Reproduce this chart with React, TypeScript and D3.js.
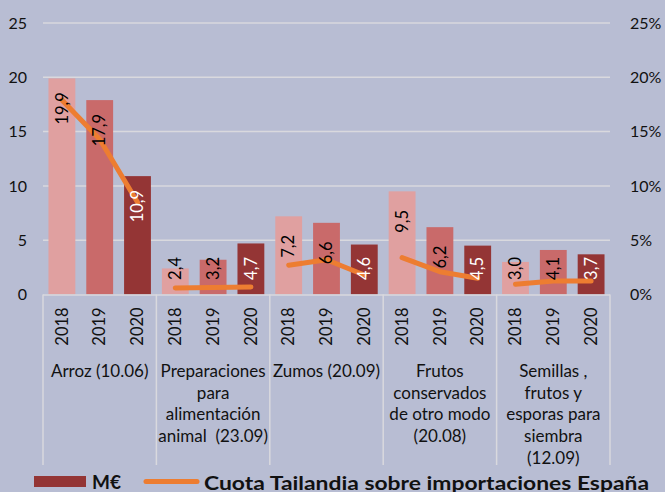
import React, { useEffect, useRef } from "react";
import * as d3 from "d3";

const categories = [
  ["Arroz (10.06)"],
  ["Preparaciones", "para", "alimentación", "animal\u00a0 (23.09)"],
  ["Zumos (20.09)"],
  ["Frutos", "conservados", "de otro modo", "(20.08)"],
  ["Semillas ,", "frutos y", "esporas para", "siembra", "(12.09)"],
];
const years = ["2018", "2019", "2020"];
const valuesMEuro = [
  [19.9, 17.9, 10.9],
  [2.4, 3.2, 4.7],
  [7.2, 6.6, 4.6],
  [9.5, 6.2, 4.5],
  [3.0, 4.1, 3.7],
];
const cuotaPct = [
  [17.9, 14.3, 8.5],
  [0.6, 0.65, 0.7],
  [2.7, 3.2, 1.8],
  [3.4, 2.1, 1.5],
  [0.95, 1.25, 1.25],
];
const leftTicks = [0, 5, 10, 15, 20, 25];
const rightTicks = [0, 5, 10, 15, 20, 25];

const barColors = ["#e0a0a0", "#c96a6a", "#943535"];
const labelColors = ["#000", "#000", "#fff"];
const lineColor = "#ed7d31";
const gridColor = "#d9d9de";
const font = "Lato, 'Open Sans', sans-serif";

export default function App() {
  const ref = useRef<SVGSVGElement>(null);

  useEffect(() => {
    const width = 665;
    const height = 492;
    const margin = { top: 23, left: 43, right: 55, bottom: 197.5 };
    const svg = d3.select(ref.current);
    svg.selectAll("*").remove();

    svg.append("rect").attr("width", width).attr("height", height).attr("fill", "#b8bdd3");

    const x0 = margin.left;
    const x1 = width - margin.right;
    const y0 = height - margin.bottom;

    const xCat = d3.scaleBand<number>().domain(d3.range(categories.length)).range([x0, x1]);
    const xYear = d3.scaleBand<number>().domain(d3.range(years.length)).range([0, xCat.bandwidth()]).paddingInner(0.29).paddingOuter(0.145);
    const y = d3.scaleLinear().domain([0, 25]).range([y0, margin.top]);
    const yPct = d3.scaleLinear().domain([0, 25]).range([y0, margin.top]);

    // grid
    svg.append("g").selectAll("line").data(leftTicks.filter(t => t > 0)).enter()
      .append("line")
      .attr("x1", x0).attr("x2", x1)
      .attr("y1", d => y(d)).attr("y2", d => y(d))
      .attr("stroke", gridColor).attr("stroke-width", 1.5);

    // left axis labels
    svg.append("g").selectAll("text").data(leftTicks).enter()
      .append("text")
      .attr("x", 27).attr("y", d => y(d))
      .attr("dy", "0.35em")
      .attr("text-anchor", "end")
      .attr("font-family", font).attr("font-size", 16).attr("fill", "#111")
      .text(d => d);

    // right axis labels
    svg.append("g").selectAll("text").data(rightTicks).enter()
      .append("text")
      .attr("x", 630).attr("y", d => yPct(d))
      .attr("dy", "0.35em")
      .attr("font-family", font).attr("font-size", 16).attr("fill", "#111")
      .text(d => d + "%");

    // bars
    const groups = svg.append("g").selectAll("g").data(valuesMEuro).enter()
      .append("g")
      .attr("transform", (d, i) => `translate(${xCat(i)},0)`);

    groups.selectAll("rect").data(d => d).enter()
      .append("rect")
      .attr("x", (d, j) => xYear(j)!)
      .attr("width", xYear.bandwidth())
      .attr("y", d => y(d))
      .attr("height", d => y0 - y(d))
      .attr("fill", (d, j) => barColors[j]);

    // line (one segment per category)
    const line = d3.line<number>()
      .x((d, j) => xYear(j)! + xYear.bandwidth() / 2)
      .y(d => yPct(d));
    groups.data(cuotaPct).append("path")
      .attr("d", d => line(d))
      .attr("fill", "none")
      .attr("stroke", lineColor)
      .attr("stroke-width", 5)
      .attr("stroke-linecap", "round")
      .attr("stroke-linejoin", "round");

    // value labels
    groups.data(valuesMEuro).selectAll("text.val").data(d => d).enter()
      .append("text")
      .attr("class", "val")
      .attr("transform", (d, j) => {
        const cx = xYear(j)! + xYear.bandwidth() / 2;
        const cy = Math.min(y(d) + 30, y0 - 26);
        return `translate(${cx},${cy}) rotate(-90)`;
      })
      .attr("text-anchor", "middle")
      .attr("dy", "0.35em")
      .attr("font-family", font).attr("font-size", 16.5)
      .attr("fill", (d, j) => labelColors[j])
      .text(d => d.toFixed(1).replace(".", ","));

    // category axis
    svg.append("line")
      .attr("x1", x0).attr("x2", x1).attr("y1", y0 + 0.5).attr("y2", y0 + 0.5)
      .attr("stroke", gridColor).attr("stroke-width", 1.5);
    svg.append("g").selectAll("line").data(d3.range(categories.length + 1)).enter()
      .append("line")
      .attr("x1", i => x0 + i * xCat.bandwidth()).attr("x2", i => x0 + i * xCat.bandwidth())
      .attr("y1", y0).attr("y2", 465)
      .attr("stroke", gridColor).attr("stroke-width", 1.5);

    // year labels
    groups.selectAll("text.yr").data(years).enter()
      .append("text")
      .attr("class", "yr")
      .attr("transform", (d, j) => `translate(${xYear(j)! + xYear.bandwidth() / 2},${y0 + 32}) rotate(-90)`)
      .attr("text-anchor", "middle")
      .attr("dy", "0.35em")
      .attr("font-family", font).attr("font-size", 16.5).attr("fill", "#111")
      .text(d => d);

    // category labels
    groups.data(categories).append("text")
      .attr("font-family", font).attr("font-size", 17).attr("fill", "#111")
      .attr("text-anchor", "middle")
      .selectAll("tspan").data(d => d).enter()
      .append("tspan")
      .attr("x", xCat.bandwidth() / 2)
      .attr("y", (d, k) => 377 + k * 21.7)
      .text(d => d);

    // legend
    const leg = svg.append("g");
    leg.append("rect").attr("x", 34).attr("y", 476).attr("width", 52).attr("height", 11).attr("fill", barColors[2]);
    leg.append("text").attr("x", 92).attr("y", 489)
      .attr("font-family", font).attr("font-size", 19).attr("font-weight", "bold").attr("fill", "#111")
      .text("M€");
    leg.append("line").attr("x1", 146).attr("x2", 197).attr("y1", 481.5).attr("y2", 481.5)
      .attr("stroke", lineColor).attr("stroke-width", 5).attr("stroke-linecap", "round");
    leg.append("text").attr("x", 204).attr("y", 489.5)
      .attr("font-family", font).attr("font-size", 19.5).attr("font-weight", "bold").attr("fill", "#111")
      .attr("textLength", 445).attr("lengthAdjust", "spacingAndGlyphs")
      .text("Cuota Tailandia sobre importaciones España");
  }, []);

  return (
    <svg ref={ref} width={665} height={492} style={{ position: "absolute", left: 0, top: 0 }} />
  );
}
